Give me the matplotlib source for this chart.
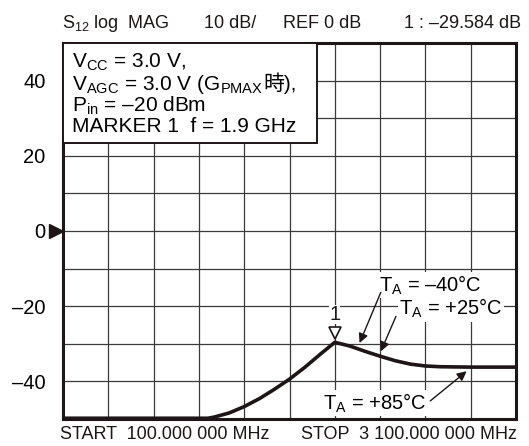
import numpy as np
import matplotlib
matplotlib.use('Agg')
import matplotlib.pyplot as plt
import matplotlib.transforms as mtransforms

plt.rcParams['font.family'] = ['Liberation Sans', 'Noto Sans CJK JP']
plt.rcParams['mathtext.fontset'] = 'custom'
plt.rcParams['mathtext.rm'] = 'Liberation Sans'
plt.rcParams['mathtext.it'] = 'Liberation Sans'

# S12 vs frequency (MHz, dB)
freq_mhz = [100, 400, 700, 1000, 1060, 1100, 1200, 1300, 1400, 1500, 1600, 1700,
            1800, 1900, 2000, 2100, 2200, 2300, 2400, 2500, 2600, 2800, 3100]
s12_db = [-49.8, -49.8, -49.8, -49.8, -49.8, -49.5, -48.4, -46.7, -44.6, -42.1,
          -39.4, -36.3, -32.9, -29.6, -30.6, -32.0, -33.3, -34.5, -35.4, -35.9,
          -36.1, -36.2, -36.2]
ytick_vals = [40, 20, 0, -20, -40]
ytick_text = ['40', '20', '0', '–20', '–40']
marker_f = 1900

ink = '#1e1616'

fig = plt.figure(figsize=(5.29, 4.46), dpi=100)
ax = fig.add_axes([63/529, 27/446, 453/529, 376/446])

ax.plot(freq_mhz, s12_db, color=ink, lw=2.6, solid_capstyle='butt', zorder=3)
ax.set_xlim(100, 3100)
ax.set_ylim(-50, 50)

ax.set_xticks(np.arange(100, 3101, 300))
ax.set_xticklabels([])
ax.set_yticks(range(-50, 51, 10))
ax.set_yticklabels(['' if v not in ytick_vals else ytick_text[ytick_vals.index(v)]
                    for v in range(-50, 51, 10)], fontsize=14.5)
ax.tick_params(length=0, pad=12.5)
ax.grid(True, color='#3a3a3a', lw=0.9)
ax.set_axisbelow(True)
for s in ax.spines.values():
    s.set_linewidth(2.2)
    s.set_color(ink)

# reference arrow at 0 dB
bt = mtransforms.blended_transform_factory(ax.transAxes, ax.transData)
ax.plot([-0.016], [0], marker='>', ms=10, color=ink, transform=bt, clip_on=False)

# marker 1
ax.plot([marker_f], [-27.0], marker='v', ms=9, mfc='white', mec=ink, mew=1.2, zorder=5)
ax.text(marker_f, -22.3, '1', ha='center', va='center', fontsize=14.5, color=ink,
        bbox=dict(facecolor='white', edgecolor='none', pad=0), zorder=4)

# temperature labels
wb = dict(facecolor='white', edgecolor='none', pad=1)
ax.text(2190, -14.4, 'T$_\\mathregular{A}$ = –40°C', fontsize=14.5, va='center', ha='left',
        bbox=wb, zorder=4)
ax.text(2325, -20.6, 'T$_\\mathregular{A}$ = +25°C', fontsize=14.5, va='center', ha='left',
        bbox=wb, zorder=4)
ax.text(1825, -45.8, 'T$_\\mathregular{A}$ = +85°C', fontsize=14.5, va='center', ha='left',
        bbox=wb, zorder=4)
ap = dict(arrowstyle='-|>', color=ink, lw=1.0, mutation_scale=14, shrinkA=0, shrinkB=0)
ax.annotate('', xy=(2064, -29.8), xytext=(2205, -16.3), arrowprops=ap, zorder=6)
ax.annotate('', xy=(2205, -32.0), xytext=(2305, -22.7), arrowprops=ap, zorder=6)
ax.annotate('', xy=(2773, -37.3), xytext=(2532, -45.2), arrowprops=ap, zorder=6)

# condition box
box_w, box_b = 0.561, 0.734
ax.add_patch(plt.Rectangle((0, box_b), box_w, 1 - box_b, transform=ax.transAxes,
                           facecolor='white', edgecolor=ink, lw=1.4, zorder=7,
                           clip_on=False))
fs = 15
def base(ypix):
    return (419 - ypix) / 376

x0 = 0.02
ax.text(x0, base(68), 'V$_\\mathregular{CC}$ = 3.0 V,', transform=ax.transAxes,
        fontsize=fs, va='baseline', zorder=8)
t2 = ax.text(x0, base(90), 'V$_\\mathregular{AGC}$ = 3.0 V (G$_\\mathregular{PMAX}$',
             transform=ax.transAxes, fontsize=fs, va='baseline', zorder=8)
ax.text(x0, base(112), 'P$_\\mathregular{in}$ = –20 dBm', transform=ax.transAxes,
        fontsize=fs, va='baseline', zorder=8)
ax.text(x0, base(132), 'MARKER 1  f = 1.9 GHz', transform=ax.transAxes,
        fontsize=fs, va='baseline', zorder=8)
fig.canvas.draw()
ext = t2.get_window_extent()
xr = ax.transAxes.inverted().transform((ext.x1, 0))[0]
ax.text(xr, base(90), '時),', transform=ax.transAxes, fontsize=fs, va='baseline', zorder=8)

# header
hy = (446 - 28) / 446
hfs = 13
fig.text(62/529, hy, 'S$_\\mathregular{12}$ log  MAG', fontsize=hfs, va='baseline', color=ink)
fig.text(204/529, hy, '10 dB/', fontsize=hfs, va='baseline', color=ink)
fig.text(283/529, hy, 'REF 0 dB', fontsize=hfs, va='baseline', color=ink)
fig.text(521/529, hy, '1 : –29.584 dB', fontsize=hfs, va='baseline', ha='right', color=ink)

# footer
fy = (446 - 439) / 446
fig.text(60/529, fy, 'START  100.000 000 MHz', fontsize=13, va='baseline', color=ink)
fig.text(517/529, fy, 'STOP  3 100.000 000 MHz', fontsize=13, va='baseline', ha='right',
         color=ink)

fig.savefig('out.png', dpi=100)
